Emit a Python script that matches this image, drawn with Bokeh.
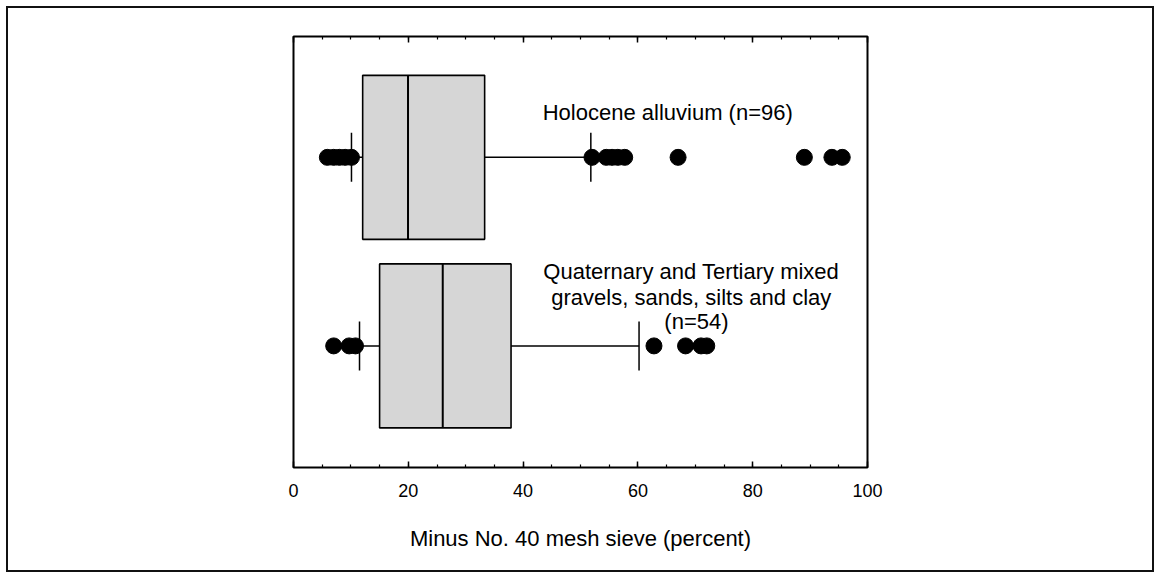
from bokeh.plotting import figure
from bokeh.models import Range1d, LinearAxis, FixedTicker, ColumnDataSource
from bokeh.core.properties import value
from bokeh.embed import file_html
from bokeh.resources import INLINE

# ---------------- data ----------------
groups = ["Holocene alluvium", "Quaternary and Tertiary"]
q1 = [12.05, 15.0]
median = [19.95, 26.0]
q3 = [33.3, 37.9]
whisker_low = [10.1, 11.5]
whisker_high = [51.8, 60.2]
outliers_holocene = [5.9, 7.0, 8.0, 9.0, 10.1, 52.0, 54.5, 55.5, 56.5, 57.7,
                     67.0, 89.0, 93.8, 95.6]
outliers_quaternary = [7.0, 9.7, 10.8, 62.8, 68.3, 71.0, 72.0]
label_lines = [
    ["Holocene alluvium (n=96)"],
    ["Quaternary and Tertiary mixed", "gravels, sands, silts and clay", "(n=54)"],
]
x_ticks = [0, 20, 40, 60, 80, 100]
x_minor_ticks = list(range(0, 101, 5))
x_title = "Minus No. 40 mesh sieve (percent)"

# ---------------- layout ----------------
FONT = value("Liberation Sans")
pos = [2.0, 1.0]          # vertical slot of each group
box_h = 0.87
cap_h = 0.26

p = figure(frame_width=574, frame_height=431,
           x_range=Range1d(0, 100), y_range=Range1d(0.355, 2.641),
           y_axis_location=None, output_backend="svg", toolbar_location=None,
           min_border_left=293, min_border_right=293, min_border_top=36,
           min_border_bottom=111, background_fill_color="white",
           border_fill_color=None)
p.grid.visible = False
p.outline_line_color = "black"
p.outline_line_width = 2
p.styles = {"outline": "2px solid #111", "outline-offset": "-8px",
            "background-color": "white"}

bottom_axis = p.below[0]
top_axis = LinearAxis()
p.add_layout(top_axis, "above")
for ax in [bottom_axis, top_axis]:
    ax.ticker = FixedTicker(ticks=x_ticks, minor_ticks=x_minor_ticks)
    ax.major_tick_in = 6
    ax.major_tick_out = 0
    ax.minor_tick_in = 3
    ax.minor_tick_out = 0
    ax.major_tick_line_color = "black"
    ax.major_tick_line_width = 1.5
    ax.minor_tick_line_color = "black"
    ax.minor_tick_line_width = 1.2
    ax.axis_line_color = None
top_axis.major_label_overrides = {t: "" for t in x_ticks}

bottom_axis.major_label_text_font = "Liberation Sans"
bottom_axis.major_label_text_font_size = "18px"
bottom_axis.major_label_text_color = "black"
bottom_axis.major_label_standoff = 16
bottom_axis.axis_label = x_title
bottom_axis.axis_label_text_font = "Liberation Sans"
bottom_axis.axis_label_text_font_size = "22px"
bottom_axis.axis_label_text_font_style = "normal"
bottom_axis.axis_label_text_color = "black"
bottom_axis.axis_label_standoff = 26

# whiskers
wsrc = ColumnDataSource(dict(
    x0=whisker_low + q3, x1=q1 + whisker_high, y=pos + pos))
p.segment(x0="x0", y0="y", x1="x1", y1="y", source=wsrc,
          line_color="black", line_width=1.5)
# caps
csrc = ColumnDataSource(dict(
    x=whisker_low + whisker_high,
    y0=[y - cap_h / 2 for y in pos] * 2,
    y1=[y + cap_h / 2 for y in pos] * 2))
p.segment(x0="x", y0="y0", x1="x", y1="y1", source=csrc,
          line_color="black", line_width=1.5)
# boxes
bsrc = ColumnDataSource(dict(left=q1, right=q3, y=pos, med=median,
                             lo=[y - box_h / 2 for y in pos],
                             hi=[y + box_h / 2 for y in pos]))
p.hbar(y="y", left="left", right="right", height=box_h, source=bsrc,
       fill_color="#d6d6d6", line_color="black", line_width=1.6)
p.segment(x0="med", y0="lo", x1="med", y1="hi", source=bsrc,
          line_color="black", line_width=2)
# outliers
osrc = ColumnDataSource(dict(
    x=outliers_holocene + outliers_quaternary,
    y=[pos[0]] * len(outliers_holocene) + [pos[1]] * len(outliers_quaternary)))
p.scatter(x="x", y="y", source=osrc, size=16, fill_color="black",
          line_color="black")

# group labels
lab_x = [65.2, 69.3, 69.3, 70.2]
lab_y = [pos[0] + 0.239, pos[1] + 0.395, pos[1] + 0.258, pos[1] + 0.13]
lab_t = label_lines[0] + label_lines[1]
p.text(x=lab_x, y=lab_y, text=lab_t, text_font=FONT, text_font_size="22px",
       text_align="center", text_baseline="middle", text_color="black")

open("out.html", "w").write(file_html(p, INLINE))
